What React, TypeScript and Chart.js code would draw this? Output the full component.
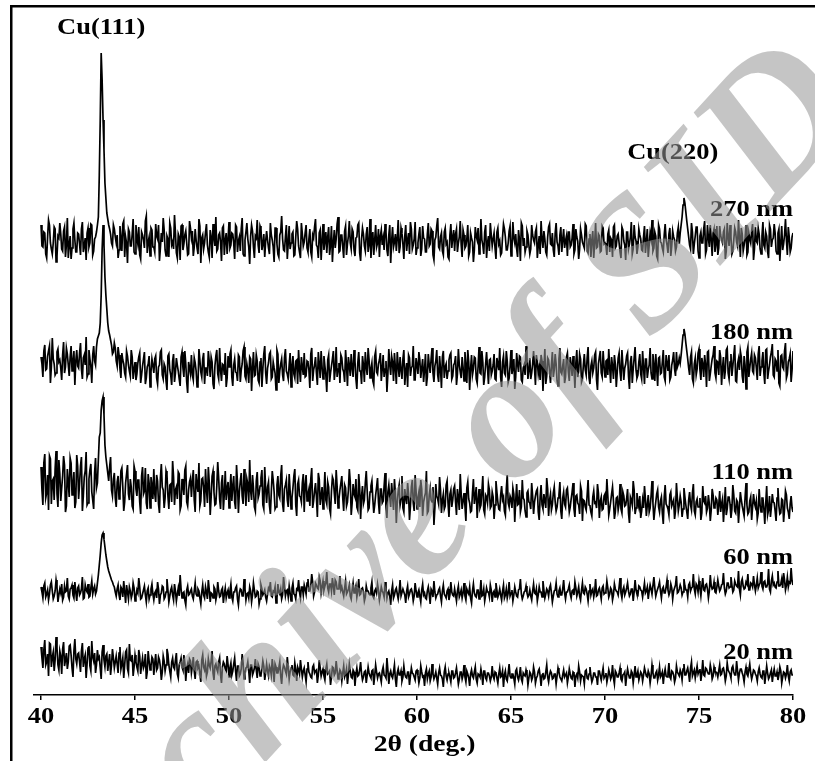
import React, { useEffect, useRef } from "react";
import { Chart, registerables } from "chart.js";

Chart.register(...registerables);

// Scan grid: 2θ from 40° to 80°. Main samples every 0.1° (401 values),
// half-step samples at 40.05, 40.15, ... (400 values).
const SCAN_START = 40;
const SCAN_STEP = 0.1;

// ---- 270 nm (stacked, a.u.) ----
const intensity270nm = [
  470,448,462,437,475,452,441,468,433,459,472,446,464,438,477,450,436,466,455,443,
  461,440,473,449,435,467,452,470,444,458,470,520,642,575,512,482,470,461,449,466,
  452,437,469,444,474,458,432,463,449,476,441,457,468,436,460,447,479,453,439,465,
  448,471,456,434,462,477,445,459,438,467,453,480,442,461,435,470,451,464,440,474,
  457,439,466,447,476,432,460,452,471,443,465,437,458,478,446,462,434,469,455,441,
  473,450,461,436,468,454,444,477,439,463,456,431,470,448,459,475,442,466,451,438,
  464,447,472,455,433,467,441,460,479,445,458,436,469,452,463,440,474,449,437,461,
  453,470,443,466,438,457,476,448,462,435,471,454,442,468,450,433,465,456,478,444,
  460,437,469,451,474,446,463,439,458,472,434,467,449,461,443,476,455,440,470,452,
  438,465,457,471,445,460,432,468,453,444,475,448,462,436,470,455,441,466,450,473,
  447,461,439,469,456,443,472,451,464,435,458,477,446,462,440,467,453,436,471,458,
  444,466,452,474,438,460,449,470,443,457,433,468,455,441,476,450,463,437,459,472,
  449,462,436,467,454,442,471,458,445,464,439,473,452,446,465,434,469,457,448,460,
  441,470,455,463,437,459,474,447,456,440,468,451,462,438,472,449,460,443,466,454,
  439,463,450,471,445,458,436,466,453,447,469,442,461,455,437,472,448,459,444,467,
  452,440,465,457,438,470,449,461,443,468,454,435,463,451,473,446,458,441,466,456,
  444,469,453,438,462,475,447,459,436,466,452,443,471,450,461,439,464,455,448,468,
  462,478,497,483,466,450,472,441,459,468,437,463,452,474,445,457,470,439,466,451,
  440,469,455,463,436,472,449,458,444,467,453,475,438,461,450,470,443,456,464,435,
  468,452,461,441,473,447,459,437,466,455,471,444,462,434,469,451,476,440,458,447,
  462,
];
const intensity270nmHalf = [
  449,463,441,458,470,446,452,466,439,457,461,444,468,450,437,459,447,472,443,462,
  451,466,443,457,462,448,471,440,456,463,478,575,615,545,497,476,466,452,470,458,
  460,445,456,471,438,452,466,449,461,443,470,451,440,463,455,474,442,458,467,448,
  443,459,470,447,453,465,439,456,472,450,446,462,437,458,469,445,460,452,441,467,
  464,448,455,441,469,457,446,463,450,438,458,471,449,444,460,453,467,440,462,456,
  447,462,452,470,443,458,466,441,455,472,448,459,464,437,457,450,469,445,461,454,
  455,441,460,448,467,451,438,463,456,444,470,452,446,461,439,458,466,443,472,449,
  462,447,456,443,460,468,450,437,465,454,445,463,458,440,469,452,447,471,443,460,
  448,464,440,459,452,466,445,457,470,442,456,461,444,468,450,437,463,455,448,466,
  459,450,445,463,439,470,454,448,461,457,442,467,451,459,444,462,473,446,456,440,
  452,468,446,457,443,461,449,466,440,455,469,448,458,444,463,451,438,460,447,465,
  461,443,458,450,465,447,456,439,462,453,445,459,467,448,455,441,470,452,444,460,
  456,447,463,451,440,458,466,445,452,469,446,457,461,438,455,472,449,443,464,450,
  446,460,452,467,449,441,456,464,443,458,471,450,445,462,453,440,468,455,447,459,
  463,448,457,441,466,454,446,460,450,471,444,456,438,464,452,447,461,443,469,451,
  449,461,443,455,468,447,459,452,437,465,450,463,446,458,441,470,454,448,460,445,
  458,442,466,450,456,444,463,439,470,453,447,460,455,442,467,449,458,444,462,451,
  470,490,492,474,458,446,463,451,468,444,459,452,466,441,470,448,456,462,443,469,
  447,460,452,466,444,458,470,441,455,463,449,458,467,444,456,440,462,452,471,446,
  454,467,446,459,450,463,443,470,448,457,462,441,466,452,445,460,455,468,443,458,
];

// ---- 180 nm ----
const intensity180nm = [
  338,318,350,326,344,312,357,331,322,346,335,315,353,328,341,319,349,333,310,345,
  327,352,316,340,358,321,336,312,349,330,356,362,400,470,418,386,364,355,341,352,
  334,348,326,342,331,318,339,324,345,316,333,321,338,312,329,343,317,331,308,336,
  322,339,311,330,345,316,328,305,341,320,334,313,337,324,309,343,318,331,302,327,
  340,315,332,308,346,323,336,311,327,344,318,333,306,339,321,347,314,330,342,317,
  328,345,309,336,322,340,313,331,348,316,325,338,304,343,320,334,312,337,326,349,
  311,332,343,318,327,305,341,324,336,314,346,321,330,308,339,317,335,345,313,328,
  342,319,333,307,347,325,338,310,331,344,316,329,303,340,322,336,315,348,326,312,
  337,323,345,309,330,341,318,334,306,343,324,339,313,328,347,317,332,310,344,321,
  335,314,340,326,303,346,320,333,342,311,329,338,316,345,324,308,337,327,349,315,
  330,343,317,336,325,309,341,322,347,313,334,320,339,307,344,328,316,335,342,319,
  332,310,346,323,338,314,329,345,305,340,326,337,312,348,321,333,318,343,311,336,
  324,341,315,331,347,308,339,320,334,317,345,327,306,342,323,338,313,330,349,316,
  337,322,344,310,333,328,340,304,346,319,335,312,343,325,331,309,347,321,336,318,
  342,314,330,339,307,345,324,336,316,341,320,348,311,334,327,343,305,338,322,344,
  318,335,346,312,329,340,308,337,323,345,315,331,342,306,339,326,348,317,333,321,
  344,311,336,325,347,316,330,341,309,338,322,345,314,332,340,318,335,326,343,331,
  332,350,366,352,336,320,343,312,337,326,346,315,331,340,308,344,321,336,349,317,
  333,345,310,338,324,347,316,341,329,350,313,336,344,319,339,306,348,327,342,322,
  337,315,349,328,343,311,346,324,338,351,318,334,345,309,340,326,352,321,336,313,
  344,
];
const intensity180nmHalf = [
  331,344,325,339,349,328,336,320,343,333,327,340,322,347,330,338,324,344,334,329,
  342,326,337,330,318,345,329,340,334,348,359,372,445,450,400,372,360,350,343,347,
  329,340,317,335,322,344,330,319,338,326,315,332,342,320,336,311,328,339,323,330,
  336,317,328,343,320,331,314,339,325,310,341,322,330,316,338,327,344,313,333,321,
  320,337,324,312,335,318,342,327,319,333,338,311,329,345,316,325,331,320,308,339,
  341,318,330,323,314,338,325,344,319,331,312,336,327,319,340,315,333,308,341,322,
  327,341,316,333,322,345,312,331,320,337,324,316,342,329,321,334,311,326,338,320,
  318,334,325,341,314,330,322,343,317,328,339,320,335,313,329,344,325,318,332,340,
  326,313,330,338,319,327,345,316,332,324,311,330,343,320,335,326,314,339,323,331,
  342,326,318,334,321,330,339,314,327,343,318,325,336,310,332,340,319,329,315,337,
  321,335,327,313,341,318,330,336,322,329,345,313,326,338,317,331,324,340,316,330,
  339,321,330,317,328,343,312,333,326,320,338,316,329,322,344,310,331,327,335,320,
  330,316,337,325,318,333,322,344,313,329,321,336,318,331,339,315,327,320,338,325,
  316,331,327,340,321,315,334,326,311,337,324,330,318,341,314,336,323,329,312,338,
  323,338,319,326,332,318,341,313,330,325,337,317,329,322,340,315,331,344,318,329,
  334,320,327,338,316,331,323,342,314,330,327,339,319,333,312,337,325,320,341,316,
  328,336,317,330,322,341,314,326,337,321,333,318,340,324,315,330,343,319,328,337,
  340,360,361,344,327,338,316,331,320,342,325,337,318,330,343,314,329,340,322,334,
  320,338,327,316,345,322,333,319,340,314,331,325,338,312,330,343,318,336,324,340,
  327,341,319,334,322,345,316,330,343,320,336,324,312,339,328,344,317,333,341,325,
];

// ---- 110 nm ----
const intensity110nm = [
  228,190,241,202,185,236,214,195,244,188,221,207,239,183,226,198,232,210,187,240,
  196,229,184,218,243,192,225,203,186,237,212,258,285,298,250,230,214,238,199,222,
  188,219,201,227,184,212,230,195,208,186,224,199,215,181,228,204,192,221,187,210,
  226,193,214,182,231,205,197,220,186,211,234,190,208,223,185,216,200,229,189,213,
  198,225,183,210,232,194,217,188,206,228,180,219,203,191,233,196,212,185,224,207,
  187,221,209,193,230,182,214,199,226,189,211,235,195,207,184,223,201,217,190,228,
  192,213,181,224,203,188,219,197,230,183,210,195,221,186,207,226,179,215,198,212,
  183,220,201,189,227,194,212,178,216,199,186,223,191,208,181,218,202,225,187,205,
  219,184,207,193,226,180,211,198,188,221,176,209,195,224,185,203,214,182,200,217,
  181,206,194,222,177,210,188,199,216,172,204,190,219,183,197,212,175,208,192,220,
  186,203,215,179,198,224,184,207,193,170,211,196,218,182,201,189,214,178,205,195,
  209,180,197,221,186,202,174,213,192,184,216,199,177,206,190,219,181,198,211,187,
  203,176,214,193,185,209,198,180,220,188,196,207,173,211,191,183,215,195,178,204,
  192,212,181,199,206,175,210,186,194,217,179,201,190,208,184,197,213,176,203,188,
  207,183,196,212,178,200,190,209,174,194,185,215,189,179,204,193,211,177,198,186,
  201,216,180,193,208,176,197,185,211,182,199,190,206,172,195,214,181,202,188,177,
  195,209,179,200,187,214,175,193,205,183,198,171,210,189,180,203,192,176,212,184,
  199,178,207,190,176,203,185,211,180,196,188,175,209,192,183,200,174,206,187,197,
  180,204,191,173,208,186,198,177,210,184,195,172,203,189,179,212,181,194,175,201,
  188,176,206,183,197,171,209,185,178,201,192,174,207,181,196,173,204,187,176,199,
  183,
];
const intensity110nmHalf = [
  205,232,197,220,239,191,216,226,201,235,194,219,230,189,213,237,200,223,193,229,
  211,238,199,224,190,216,231,195,222,207,235,262,294,280,238,222,228,205,216,197,
  213,196,224,208,193,221,201,216,189,229,206,215,193,219,201,227,186,212,218,196,
  201,220,191,217,208,187,224,199,210,193,218,205,196,221,189,210,225,193,205,217,
  214,195,221,203,189,216,207,226,192,212,198,224,190,209,217,186,220,201,195,213,
  205,194,219,186,212,203,222,191,208,216,193,204,220,188,214,197,209,225,186,206,
  208,190,203,215,186,210,200,219,191,206,215,188,204,197,219,190,211,199,193,221,
  210,194,206,216,187,204,198,222,190,208,200,195,213,186,204,215,191,209,196,212,
  197,210,189,205,213,192,201,216,185,207,199,191,212,204,187,209,196,190,208,193,
  206,192,209,186,203,198,212,185,201,193,210,196,187,206,191,201,189,215,184,204,
  197,188,206,193,202,182,200,195,208,187,199,191,205,195,186,210,192,201,188,206,
  193,206,185,201,194,189,207,196,183,202,191,208,194,187,203,185,200,192,205,189,
  198,190,203,186,200,195,184,206,192,199,187,201,194,190,205,188,197,184,202,193,
  186,199,193,204,183,198,190,201,187,206,195,185,202,193,188,200,184,197,191,205,
  195,188,203,186,199,192,181,204,195,188,200,190,183,198,192,187,202,194,185,199,
  190,199,186,201,194,183,198,191,186,203,189,196,182,198,190,205,187,193,199,184,
  187,196,190,183,199,192,185,201,188,194,182,198,191,186,200,189,195,184,197,190,
  193,186,198,183,195,190,202,184,193,188,197,182,194,199,187,191,185,200,189,195,
  190,183,196,188,180,198,191,186,200,182,193,187,195,184,197,190,183,198,188,192,
  194,182,190,197,186,192,180,199,188,193,184,197,189,182,195,186,200,183,191,187,
];

// ---- 60 nm ----
const intensity60nm = [
  108,97,112,101,95,110,104,99,115,93,106,111,98,103,117,96,107,100,113,94,
  109,102,118,97,105,111,99,114,106,101,112,130,152,162,148,134,124,118,113,108,
  99,110,95,106,114,92,103,108,97,112,94,105,117,96,101,109,93,107,100,111,
  95,104,113,91,102,108,98,116,93,105,100,111,94,107,120,97,103,90,109,101,
  106,96,112,99,104,91,110,97,103,115,93,101,108,95,113,98,105,92,107,102,
  97,111,94,103,109,90,106,99,116,95,102,108,93,112,98,104,91,110,100,105,
  94,107,113,98,103,92,111,101,96,118,99,105,109,94,112,100,106,115,97,108,
  110,101,116,104,121,99,112,107,118,102,114,109,123,103,111,117,100,113,106,119,
  108,99,114,103,110,96,112,105,98,116,101,107,94,109,104,100,113,97,106,111,
  95,108,102,113,97,104,90,110,100,107,96,115,99,103,92,109,101,106,94,112,
  98,105,93,111,102,96,108,91,104,114,97,101,107,93,110,99,104,95,113,100,
  106,94,109,101,97,112,95,103,108,92,111,99,105,96,115,100,94,107,103,110,
  93,104,112,98,106,95,110,100,97,113,102,94,108,99,105,116,96,103,109,98,
  105,95,111,101,94,108,103,114,97,106,99,110,93,104,112,98,107,100,115,96,
  103,110,97,105,113,99,108,95,112,101,106,94,111,104,98,116,100,107,96,109,
  102,114,98,107,95,111,104,100,117,97,108,103,112,99,106,94,115,101,109,105,
  98,112,104,96,110,101,118,99,106,113,97,108,102,115,100,111,96,107,119,103,
  110,100,116,105,98,112,107,121,101,109,114,99,117,104,111,97,120,106,113,102,
  115,104,110,122,101,112,107,118,103,114,109,124,100,116,106,113,121,105,111,119,
  104,117,110,123,106,114,108,126,103,119,112,107,124,109,116,122,105,118,113,127,
  110,
];
const intensity60nmHalf = [
  103,109,98,105,101,113,96,104,108,100,102,95,109,104,99,106,110,97,103,107,
  100,106,96,110,103,98,107,101,109,104,120,140,160,156,140,128,121,115,110,103,
  106,100,108,98,103,110,96,104,101,107,99,102,108,97,105,100,104,96,106,101,
  102,97,106,100,109,96,103,105,99,108,95,104,101,99,106,102,95,105,100,104,
  99,104,101,106,97,103,100,108,96,105,102,97,106,100,104,99,107,101,97,105,
  104,98,103,107,96,102,105,99,106,101,97,104,100,105,99,103,96,106,102,98,
  101,105,99,104,108,97,103,106,100,109,104,98,102,107,101,96,105,103,108,100,
  106,112,104,109,113,103,110,106,114,108,105,112,107,111,104,109,115,106,110,105,
  103,107,101,106,99,105,102,109,104,100,106,103,98,104,101,107,99,104,102,105,
  101,104,98,106,102,99,104,97,105,101,103,99,106,100,104,98,105,102,99,104,
  102,99,105,100,97,104,101,106,98,103,100,105,99,104,101,97,106,100,103,99,
  100,104,98,105,102,99,106,101,97,104,102,98,105,101,99,106,100,103,98,105,
  102,98,105,101,100,104,97,106,102,99,105,100,103,98,106,101,99,104,102,100,
  99,104,102,106,100,103,98,105,101,104,107,102,99,105,101,104,100,106,102,103,
  106,101,104,100,107,103,99,105,102,108,101,104,100,106,103,99,105,102,107,101,
  104,107,101,105,100,106,103,108,102,105,100,107,104,101,106,103,105,100,108,104,
  105,102,108,104,106,101,107,103,109,104,106,102,108,105,103,107,104,110,102,106,
  107,103,109,105,110,104,108,106,111,103,107,109,105,110,106,104,109,107,103,108,
  109,106,111,107,104,112,108,110,105,111,108,106,113,109,107,111,105,112,108,110,
  110,107,112,109,113,108,111,106,114,110,108,113,109,111,107,115,110,108,112,114,
];

// ---- 20 nm ----
const intensity20nm = [
  48,27,55,33,19,51,38,24,58,30,44,21,53,35,26,49,40,18,56,31,
  42,23,52,36,17,47,29,54,34,22,45,38,16,50,28,41,33,20,46,27,
  39,22,48,31,17,43,26,51,34,19,40,28,45,21,37,30,16,44,25,38,
  20,41,27,35,15,39,24,46,30,18,37,26,42,17,33,28,40,14,31,36,
  22,38,16,34,29,13,40,25,19,36,27,44,15,31,23,37,12,33,26,39,
  18,32,24,37,14,29,21,41,16,27,33,12,30,23,36,17,28,20,34,15,
  31,19,26,36,13,28,22,33,11,30,24,38,16,27,20,32,14,25,35,18,
  27,13,33,21,17,30,24,12,35,19,26,15,31,22,10,28,20,34,16,25,
  14,29,21,11,31,18,25,9,27,20,33,15,23,12,28,19,24,10,30,17,
  22,13,28,19,37,11,24,17,30,8,26,20,14,29,18,23,10,27,21,15,
  25,12,29,18,9,26,21,14,31,16,23,11,27,19,8,28,15,22,13,24,
  18,27,11,23,16,30,13,21,9,25,17,28,12,20,26,10,24,15,22,14,
  29,16,22,12,27,19,8,24,14,31,17,21,11,26,15,28,13,20,25,10,
  23,15,28,12,19,26,9,22,17,30,13,24,16,21,11,27,18,14,25,20,
  12,26,17,23,8,21,29,14,19,11,25,16,28,13,22,18,10,24,15,27,
  19,13,25,16,30,11,22,18,27,14,21,9,26,17,24,12,29,20,15,23,
  14,27,19,24,12,30,17,22,15,28,20,11,26,18,32,16,23,13,29,21,
  25,15,31,20,27,13,33,22,17,29,24,14,35,19,26,21,30,16,28,23,
  18,30,21,27,14,32,23,17,29,20,34,15,26,22,13,28,19,31,16,25,
  21,14,27,18,24,11,29,16,22,13,26,19,15,28,12,23,17,30,14,25,
  20,
];
const intensity20nmHalf = [
  37,45,30,41,52,28,43,35,47,25,39,46,29,42,33,50,27,44,36,41,
  33,44,28,40,31,49,24,38,42,30,36,27,43,35,39,24,41,30,37,33,
  31,42,26,37,30,45,22,35,40,28,33,24,39,30,27,41,23,34,29,36,
  32,25,38,28,23,34,30,41,24,33,28,35,21,30,37,25,32,27,22,34,
  29,24,33,27,21,35,28,31,23,30,34,22,29,26,33,20,28,31,24,30,
  27,20,31,24,29,19,26,32,22,28,24,30,20,27,25,31,19,26,29,23,
  24,29,20,26,31,22,27,19,25,28,21,27,23,30,19,25,28,21,26,24,
  20,26,23,18,28,22,25,20,27,23,19,26,21,24,18,27,22,25,20,23,
  22,18,26,20,24,17,23,21,19,25,21,18,24,20,22,17,25,19,23,21,
  18,24,20,17,25,21,19,23,16,22,20,24,18,21,17,23,19,22,18,24,
  20,17,23,19,22,16,24,18,21,19,17,22,20,16,23,19,21,18,24,17,
  22,19,16,23,20,18,24,17,21,19,23,16,21,18,20,24,17,22,19,18,
  19,23,17,21,18,24,20,16,22,19,21,17,24,18,20,16,22,19,21,17,
  21,18,23,17,24,19,20,16,23,18,20,22,17,21,19,23,16,20,18,22,
  18,21,16,22,19,17,23,20,18,24,17,21,19,16,22,18,24,19,21,17,
  22,18,21,19,17,24,18,22,16,20,23,19,21,17,22,20,18,24,19,21,
  20,23,18,21,19,22,17,24,20,18,23,21,19,22,18,24,20,17,23,19,
  22,26,20,24,21,27,19,25,23,21,26,22,20,27,23,21,25,19,24,22,
  24,20,26,22,19,25,21,27,23,20,24,22,26,19,23,21,25,22,20,24,
  19,23,21,17,24,20,22,18,25,21,19,23,20,24,18,22,21,19,23,20,
];

const xTicks = [40, 45, 50, 55, 60, 65, 70, 75, 80];
const xTitle = "2θ (deg.)";

// Text labels placed in data coordinates
const annotations = [
  { text: "Cu(111)", x: 43.2, y: 667, align: "center" },
  { text: "Cu(220)", x: 73.6, y: 542, align: "center" },
  { text: "270 nm", x: 80, y: 485, align: "right" },
  { text: "180 nm", x: 80, y: 362, align: "right" },
  { text: "110 nm", x: 80, y: 222, align: "right" },
  { text: "60 nm", x: 80, y: 137, align: "right" },
  { text: "20 nm", x: 80, y: 42, align: "right" },
];

const FONT = '"Liberation Serif", "Times New Roman", serif';
const SX = 1.15;

const toPoints = (main: number[], half: number[]) => {
  const pts: { x: number; y: number }[] = [];
  main.forEach((v, i) => {
    pts.push({ x: +(SCAN_START + i * SCAN_STEP).toFixed(2), y: v });
    if (i < half.length) {
      pts.push({ x: +(SCAN_START + SCAN_STEP / 2 + i * SCAN_STEP).toFixed(2), y: half[i] });
    }
  });
  return pts;
};

const textPlugin = {
  id: "figureTexts",
  afterDraw(chart: any) {
    const { ctx, scales } = chart;
    const xs = scales.x;
    const ys = scales.y;
    ctx.save();
    // frame
    ctx.strokeStyle = "#000";
    ctx.lineWidth = 2.5;
    ctx.beginPath();
    ctx.moveTo(11.25, 761);
    ctx.lineTo(11.25, 6.25);
    ctx.lineTo(815, 6.25);
    ctx.stroke();

    const draw = (text: string, px: number, py: number, size: number, align: string) => {
      ctx.save();
      ctx.translate(px, py);
      ctx.scale(SX, 1);
      ctx.font = `bold ${size}px ${FONT}`;
      ctx.textAlign = align;
      ctx.textBaseline = "middle";
      ctx.fillStyle = "#000";
      ctx.fillText(text, 0, 0);
      ctx.restore();
    };
    const axisY = xs.top;
    xs.ticks.forEach((t: any) =>
      draw(String(t.value), xs.getPixelForValue(t.value), axisY + 22, 23, "center")
    );
    draw(xTitle, xs.getPixelForValue(60.4), axisY + 50, 24, "center");
    annotations.forEach((a) =>
      draw(a.text, xs.getPixelForValue(a.x), ys.getPixelForValue(a.y), 23, a.align)
    );

    // watermark
    ctx.save();
    ctx.translate(513, 428);
    ctx.rotate((-47.5 * Math.PI) / 180);
    ctx.font = `italic bold 188px ${FONT}`;
    const pre = ctx.measureText("Archive ").width;
    const ow = ctx.measureText("o").width;
    ctx.textAlign = "left";
    ctx.textBaseline = "alphabetic";
    ctx.fillStyle = "rgba(150,150,150,0.55)";
    ctx.fillText("Archive of SID", -pre - ow / 2, 0.23 * 188);
    ctx.restore();

    ctx.restore();
  },
};

export default function App() {
  const ref = useRef<HTMLCanvasElement>(null);
  useEffect(() => {
    const series = [
      [intensity270nm, intensity270nmHalf],
      [intensity180nm, intensity180nmHalf],
      [intensity110nm, intensity110nmHalf],
      [intensity60nm, intensity60nmHalf],
      [intensity20nm, intensity20nmHalf],
    ];
    const chart = new Chart(ref.current as HTMLCanvasElement, {
      type: "line",
      data: {
        datasets: series.map(([m, h]) => ({
          data: toPoints(m, h),
          borderColor: "#000",
          borderWidth: 1.7,
          pointRadius: 0,
          tension: 0,
          fill: false,
        })),
      },
      options: {
        responsive: false,
        animation: false,
        layout: { padding: { left: 33.5, right: 22, top: 5, bottom: 61 } },
        plugins: { legend: { display: false }, tooltip: { enabled: false } },
        scales: {
          x: {
            type: "linear",
            min: 39.6,
            max: 80,
            afterBuildTicks: (scale: any) => {
              scale.ticks = xTicks.map((v) => ({ value: v }));
            },
            ticks: { display: false },
            grid: {
              display: true,
              drawOnChartArea: false,
              drawTicks: true,
              tickLength: 5,
              color: "#000",
              lineWidth: 1.5,
            },
            border: { display: true, color: "#000", width: 1.5 },
          },
          y: { display: false, min: 0, max: 690 },
        },
      },
      plugins: [textPlugin],
    } as any);
    return () => chart.destroy();
  }, []);
  return (
    <div
      style={{
        position: "absolute",
        left: 0,
        top: 0,
        width: 815,
        height: 761,
        background: "#fff",
        overflow: "hidden",
      }}
    >
      <canvas ref={ref} width={815} height={761} style={{ display: "block", width: 815, height: 761 }} />
    </div>
  );
}
